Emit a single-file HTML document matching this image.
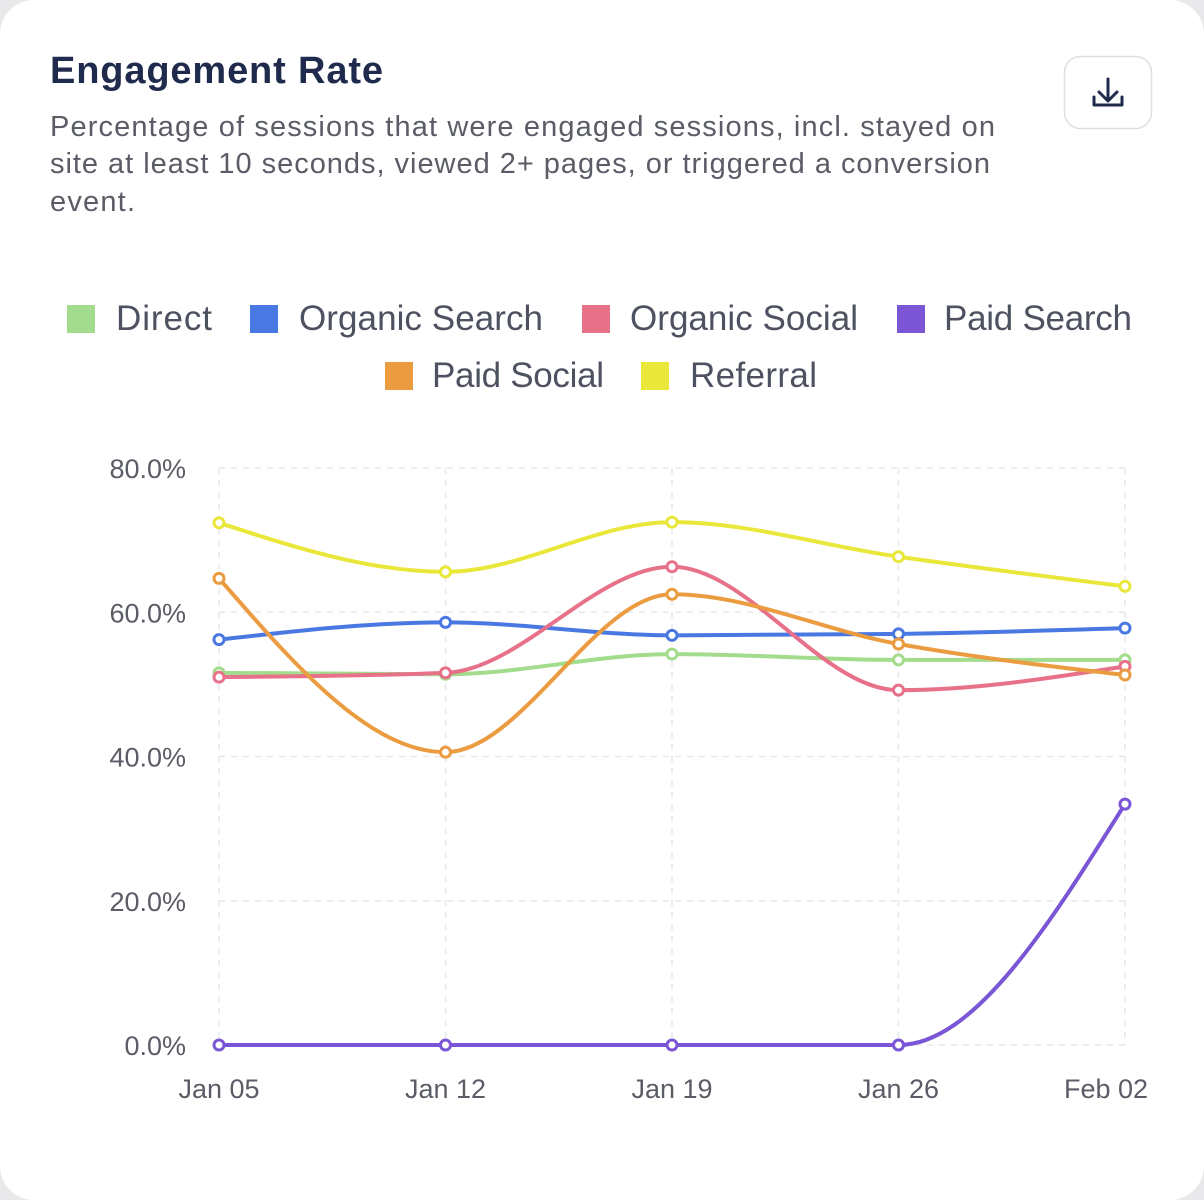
<!DOCTYPE html>
<html><head><meta charset="utf-8"><style>
html,body{margin:0;padding:0;background:#e9e9ec;width:1204px;height:1200px;overflow:hidden}
#card{position:absolute;left:0;top:0;width:1204px;height:1200px;background:#fff;border-radius:34px}
svg{position:absolute;left:0;top:0}
text{font-family:"Liberation Sans",sans-serif}
</style></head><body>
<div id="card">
<svg id="s" width="1204" height="1200">
<text x="50" y="83" font-size="38" font-weight="bold" fill="#1f2a4d" textLength="333">Engagement Rate</text>
<g fill="#5a5d66" font-size="29">
<text x="50" y="136" textLength="945">Percentage of sessions that were engaged sessions, incl. stayed on</text>
<text x="50" y="173" textLength="940">site at least 10 seconds, viewed 2+ pages, or triggered a conversion</text>
<text x="50" y="211" textLength="85">event.</text>
</g>
<g>
<rect x="1064.5" y="56.5" width="87" height="72" rx="16" fill="#fff" stroke="#dedfe3" stroke-width="1.5"/>
<path d="M1108 79v21M1099 92l9 9 9-9M1094 97v8h28v-8" fill="none" stroke="#1f2a4d" stroke-width="3" stroke-linecap="round" stroke-linejoin="round"/>
</g>
<g id="legend"></g>
<g id="grid"></g><g id="lines"></g><g id="axes"></g>
</svg>
</div>
<script>
const categories=["Jan 05","Jan 12","Jan 19","Jan 26","Feb 02"];
const yTicks=[0,20,40,60,80];
const yTickLabels=["0.0%","20.0%","40.0%","60.0%","80.0%"];
const seriesNames=["Direct","Organic Search","Organic Social","Paid Search","Paid Social","Referral"];
const direct=[51.6,51.4,54.2,53.4,53.4];
const organicSearch=[56.2,58.6,56.8,57.0,57.8];
const organicSocial=[51.0,51.6,66.3,49.2,52.5];
const paidSearch=[0,0,0,0,33.4];
const paidSocial=[64.7,40.6,62.5,55.6,51.3];
const referral=[72.4,65.6,72.5,67.7,63.6];
const colors=["#a3dc8c","#4a78e3","#e8718a","#7a55d6","#eb9c40","#e9e73a"];
const seriesData=[direct,organicSearch,organicSocial,paidSearch,paidSocial,referral];
const NS="http://www.w3.org/2000/svg";
const x0=219,x1=1125,yB=1045,yT=468;
const xs=i=>x0+(x1-x0)*i/(categories.length-1);
const ys=v=>yB-(yB-yT)*v/80;
function mk(t,a,p){const e=document.createElementNS(NS,t);for(const k in a)e.setAttribute(k,a[k]);p.appendChild(e);return e;}
const grid=document.getElementById('grid'),axes=document.getElementById('axes'),lines=document.getElementById('lines'),legend=document.getElementById('legend');
yTicks.forEach((t,i)=>{
 const l=mk('line',{x1:x0,x2:x1,y1:ys(t),y2:ys(t),stroke:'#e8e8ec','stroke-width':1.5,'stroke-dasharray':'6 6'},grid);
 
 
 const tx=mk('text',{x:186,y:ys(t)+10,'text-anchor':'end','font-size':27,fill:'#5a5d66'},axes);
 tx.textContent=yTickLabels[i];
 
 
});
categories.forEach((c,i)=>{
 const l=mk('line',{x1:xs(i),x2:xs(i),y1:yT,y2:yB,stroke:'#e8e8ec','stroke-width':1.5,'stroke-dasharray':'6 6'},grid);
 
 
 const tx=mk('text',{x:xs(i)+(i===categories.length-1?-19:0),y:1098,'text-anchor':'middle','font-size':27,fill:'#5a5d66'},axes);
 tx.textContent=c;
 
 
});
function monotone(px,py){
 const n=px.length,d=[],m=[];
 for(let i=0;i<n-1;i++)d.push((py[i+1]-py[i])/(px[i+1]-px[i]));
 for(let i=0;i<n;i++){
  if(i===0)m.push(d[0]);else if(i===n-1)m.push(d[n-2]);
  else if(d[i-1]*d[i]<=0)m.push(0);
  else{const h0=px[i]-px[i-1],h1=px[i+1]-px[i];const p=(d[i-1]*h1+d[i]*h0)/(h0+h1);
   m.push((Math.sign(d[i-1])+Math.sign(d[i]))*Math.min(Math.abs(d[i-1]),Math.abs(d[i]),0.5*Math.abs(p)));}
 }
 if(n>2){m[0]=(3*d[0]-m[1])/2;m[n-1]=(3*d[n-2]-m[n-2])/2;}
 let s='M'+px[0]+','+py[0];
 for(let i=0;i<n-1;i++){const h=(px[i+1]-px[i])/3;
  s+='C'+(px[i]+h)+','+(py[i]+m[i]*h)+' '+(px[i+1]-h)+','+(py[i+1]-m[i+1]*h)+' '+px[i+1]+','+py[i+1];}
 return s;
}
seriesData.forEach((vals,si)=>{
 const g=mk('g',{},lines);
 
 
 const px=vals.map((v,i)=>xs(i)),py=vals.map(ys);
 const p=mk('path',{d:monotone(px,py),fill:'none',stroke:colors[si],'stroke-width':4},g);
 
 
 vals.forEach((v,i)=>{
  const c=mk('circle',{cx:xs(i),cy:ys(v),r:5,fill:'#fff',stroke:colors[si],'stroke-width':3},g);
  
  
 });
});
const legPos=[[67,116,96,330],[250,299,244,330],[582,630,228,330],[897,944,188,330],[385,432,172,387],[641,690,127,387]];
seriesNames.forEach((n,i)=>{
 const [sx,tx,tw,by]=legPos[i];
 const g=mk('g',{},legend);
 
 
 mk('rect',{x:sx,y:by-25,width:28,height:28,fill:colors[i]},g);
 const t=mk('text',{x:tx,y:by,'font-size':35,fill:'#4e5260',textLength:tw},g);
 t.textContent=n;
});
</script>
</body></html>
